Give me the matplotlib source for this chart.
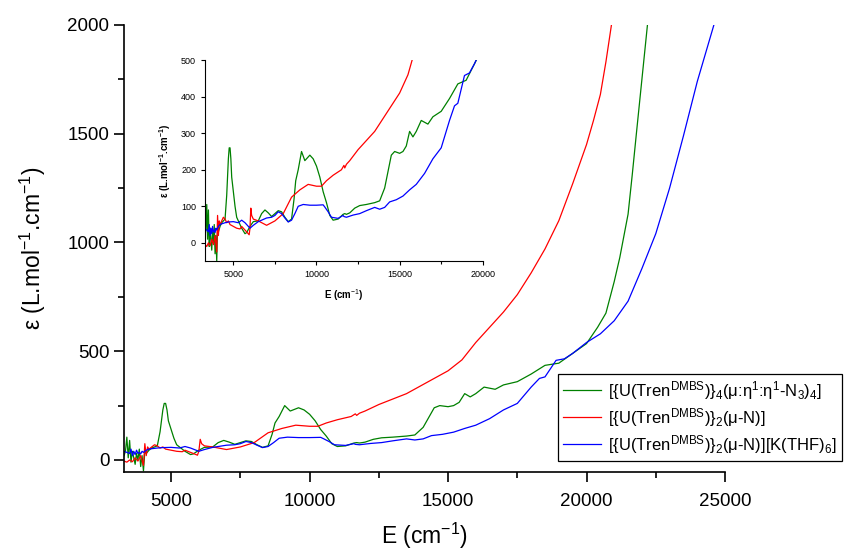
import matplotlib
matplotlib.use("Agg")
import matplotlib.pyplot as plt
from matplotlib.ticker import MultipleLocator

plt.rcParams['font.family'] = ['Liberation Sans', 'DejaVu Sans']
plt.rcParams['mathtext.fontset'] = 'custom'
plt.rcParams['mathtext.rm'] = 'Liberation Sans'
plt.rcParams['mathtext.it'] = 'Liberation Sans:italic'
plt.rcParams['mathtext.bf'] = 'Liberation Sans:bold'

# energie (cm-1) et epsilon pour chaque compose
g_x = [3300, 3350, 3400, 3450, 3500, 3550, 3600, 3650, 3700, 3750,
       3800, 3850, 3900, 3950, 4000, 4050, 4100, 4200, 4300, 4400,
       4500, 4600, 4700, 4750, 4800, 4850, 4900, 5000, 5100, 5200,
       5300, 5500, 5700, 5800, 6000, 6200, 6500, 6700, 6900, 7100,
       7300, 7500, 7700, 7900, 8100, 8300, 8500, 8650, 8750, 8900,
       9100, 9300, 9600, 9800, 10000, 10200, 10400, 10600, 10800, 11000,
       11300, 11600, 11700, 11800, 12000, 12300, 12600, 13000, 13500, 13800,
       14100, 14300, 14500, 14700, 15000, 15200, 15400, 15600, 15800, 16000,
       16300, 16700, 17000, 17500, 18000, 18500, 19000, 19500, 20000, 20400,
       20700, 21000, 21200, 21500, 21650, 21800, 22000, 22200]
g_y = [20, 40, 105, 10, 90, -10, 40, 10, -20, 30,
       0, 50, -30, 20, -50, 40, 30, 45, 55, 60,
       65, 130, 230, 260, 260, 230, 180, 140, 100, 70,
       60, 40, 25, 28, 45, 58, 60, 80, 90, 82,
       72, 80, 88, 85, 70, 58, 65, 120, 170, 200,
       250, 225, 240, 230, 210, 180, 140, 110, 75, 62,
       65, 78, 80, 78, 82, 95, 102, 105, 110, 115,
       150, 195, 240, 250, 245, 250, 265, 305, 290, 305,
       335, 325, 345, 360, 395, 435, 445, 490, 535, 610,
       675, 820, 930, 1130, 1310, 1500, 1750, 2000]

r_x = [3300, 3400, 3500, 3600, 3700, 3800, 3900, 4000, 4050, 4100,
       4150, 4200, 4300, 4400, 4500, 4600, 4700, 4800, 5000, 5200,
       5400, 5500, 5600, 5800, 5950, 6000, 6050, 6100, 6200, 6500,
       7000, 7500, 8000, 8500, 9000, 9500, 10000, 10300, 10600, 11000,
       11500, 11650, 11700, 11800, 12000, 12500, 13000, 13500, 14000, 14500,
       15000, 15500, 16000, 16500, 17000, 17500, 18000, 18500, 19000, 19500,
       20000, 20250, 20500, 20700, 20900]
r_y = [-5, -10, 0, -8, 10, -5, 20, -25, 75, 20,
       60, 50, 60, 70, 65, 55, 60, 50, 45, 40,
       38, 45, 40, 30, 22, 40, 95, 75, 65, 60,
       48, 60, 80, 125, 145, 160, 155, 155, 170, 185,
       200, 212, 205, 215, 225, 255, 280, 305, 340, 375,
       410, 460, 540, 610, 680, 760, 860, 970, 1100, 1270,
       1450, 1560, 1680, 1830, 2000]

b_x = [3300, 3400, 3500, 3550, 3600, 3650, 3700, 3750, 3800, 3850,
       3900, 3950, 4000, 4100, 4200, 4300, 4500, 4700, 5000, 5300,
       5500, 5700, 5900, 6000, 6200, 6500, 7000, 7300, 7500, 7700,
       7900, 8100, 8300, 8500, 8700, 8900, 9200, 9600, 10000, 10400,
       10500, 10700, 10900, 11300, 11600, 11650, 11800, 12200, 12600, 13000,
       13500, 13800, 14100, 14400, 14800, 15200, 15600, 16000, 16500, 17000,
       17500, 18000, 18300, 18500, 18700, 18900, 19200, 19500, 20000, 20500,
       21000, 21500, 22000, 22500, 23000, 23500, 24000, 24600]
b_y = [40, 35, 30, 50, 20, 40, 25, 45, 30, 35,
       28, 40, 35, 45, 50, 52, 55, 57, 58, 55,
       62, 55, 45, 40, 48, 58, 68, 70, 75, 85,
       80, 68, 57, 62, 80, 100, 105, 103, 103, 104,
       98, 85, 70, 67, 75, 72, 70, 76, 80, 88,
       97, 92, 97, 112, 118, 128, 145, 160, 190, 230,
       260, 335, 375, 382, 420, 458, 465, 490, 540, 580,
       640, 730, 880, 1040, 1250, 1490, 1740, 2000]

etiquettes = [
    r'[{U(Tren$^{\mathrm{DMBS}}$)}$_{4}$(μ:η$^{1}$:η$^{1}$-N$_{3}$)$_{4}$]',
    r'[{U(Tren$^{\mathrm{DMBS}}$)}$_{2}$(μ-N)]',
    r'[{U(Tren$^{\mathrm{DMBS}}$)}$_{2}$(μ-N)][K(THF)$_{6}$]',
]
couleurs = ['#008000', '#ff0000', '#0000ff']
series = [(g_x, g_y), (r_x, r_y), (b_x, b_y)]

fig = plt.figure(figsize=(8.44, 5.52), dpi=100)
ax = fig.add_axes([0.147, 0.145, 0.712, 0.81])

for (x, y), c, lab in zip(series, couleurs, etiquettes):
    ax.plot(x, y, color=c, lw=0.9, label=lab)

ax.set_xlim(3300, 25000)
ax.set_ylim(-55, 2000)
for s in ['top', 'right']:
    ax.spines[s].set_visible(False)
for s in ['left', 'bottom']:
    ax.spines[s].set_linewidth(1.2)
ax.xaxis.set_major_locator(MultipleLocator(5000))
ax.xaxis.set_minor_locator(MultipleLocator(2500))
ax.yaxis.set_major_locator(MultipleLocator(500))
ax.yaxis.set_minor_locator(MultipleLocator(250))
ax.tick_params(which='major', direction='out', length=7, width=1.2, labelsize=13.5)
ax.tick_params(axis='x', which='major', pad=8)
ax.tick_params(which='minor', direction='out', length=4, width=1.2)
ax.set_xlabel('E (cm$^{-1}$)', fontsize=16.5, labelpad=8)
ax.set_ylabel('ε (L.mol$^{-1}$.cm$^{-1}$)', fontsize=16.5, labelpad=14)

leg = ax.legend(loc='upper left', bbox_to_anchor=(0.661, 0.323),
                bbox_transform=fig.transFigure, fontsize=12, frameon=True,
                fancybox=False, framealpha=1, edgecolor='black',
                handlelength=2.3, handletextpad=0.4, borderaxespad=0,
                borderpad=0.3, labelspacing=0.25)
leg.get_frame().set_linewidth(0.9)

# encart
ins = fig.add_axes([0.243, 0.527, 0.329, 0.364])
for (x, y), c in zip(series, couleurs):
    ins.plot(x, y, color=c, lw=0.9)
ins.set_xlim(3300, 20000)
ins.set_ylim(-50, 500)
for s in ['top', 'right']:
    ins.spines[s].set_visible(False)
ins.xaxis.set_major_locator(MultipleLocator(5000))
ins.xaxis.set_minor_locator(MultipleLocator(2500))
ins.yaxis.set_major_locator(MultipleLocator(100))
ins.tick_params(which='major', direction='out', length=3, width=0.8, labelsize=6.5)
ins.tick_params(which='minor', direction='out', length=2, width=0.8)
ins.set_xlabel('E (cm$^{-1}$)', fontsize=7, fontweight='bold', labelpad=6)
ins.set_ylabel(r'ε (L.mol$^{\mathbf{-1}}$.cm$^{\mathbf{-1}}$)', fontsize=7,
               fontweight='bold', labelpad=6)

fig.savefig('out.png', dpi=100)
